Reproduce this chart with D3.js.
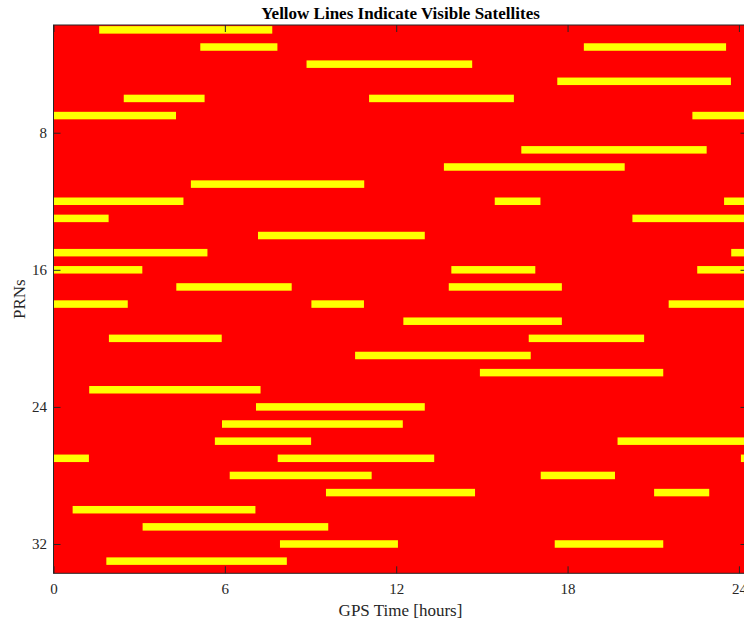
<!DOCTYPE html>
<html>
<head>
<meta charset="utf-8">
<script src="https://cdn.jsdelivr.net/npm/d3@7"></script>
<style>
  body { margin: 0; background: #fff; }
  text { font-family: "Liberation Serif", "Times New Roman", serif; }
</style>
</head>
<body>
<svg id="chart" width="744" height="622"></svg>
<script>
// visibility windows, one entry per pass: PRN, rise hour, set hour
var visPrn   = [2, 3, 3, 4, 5, 6, 6, 7, 7, 9, 10, 11, 12, 12, 12, 13, 13, 14, 15, 15,
                16, 16, 16, 17, 17, 18, 18, 18, 19, 20, 20, 21, 22, 23, 24, 25, 26, 26,
                27, 27, 27, 28, 28, 29, 29, 30, 31, 32, 32, 33];
var visStart = [1.60, 5.14, 18.57, 8.86, 17.64, 2.46, 11.05, 0, 22.37, 16.38, 13.67, 4.81,
                0, 15.45, 23.48, 0, 20.27, 7.16, 0, 23.73,
                0, 13.93, 22.54, 4.30, 13.84, 0, 9.03, 21.54, 12.25, 1.94, 16.64, 10.56,
                14.93, 1.25, 7.09, 5.90, 5.65, 19.75,
                0, 7.85, 24.07, 6.17, 17.06, 9.54, 21.03, 0.67, 3.12, 7.93, 17.55, 1.85];
var visEnd   = [7.66, 7.84, 23.55, 14.66, 23.72, 5.29, 16.12, 4.29, 24.3, 22.87, 20.00, 10.88,
                4.55, 17.05, 24.3, 1.93, 24.3, 13.00, 5.39, 24.3,
                3.11, 16.87, 24.3, 8.34, 17.80, 2.60, 10.87, 24.3, 17.80, 5.89, 20.68, 16.71,
                21.35, 7.25, 13.00, 12.23, 9.02, 24.3,
                1.24, 13.33, 24.3, 11.14, 19.66, 14.76, 22.96, 7.07, 9.62, 12.06, 21.35, 8.17];

var xTicks = [0, 6, 12, 18, 24];
var yTicks = [8, 16, 24, 32];

var svg = d3.select('#chart');
var plotL = 53.5, plotR = 747.5, plotT = 25, plotB = 573.3;

var x = d3.scaleLinear().domain([0, 24.3]).range([plotL, plotR]);
var y = d3.scaleLinear().domain([1.715, 33.71]).range([plotT, plotB]);

svg.append("defs").append("clipPath").attr("id", "plotclip")
  .append("rect")
    .attr("x", plotL).attr("y", plotT)
    .attr("width", plotR - plotL).attr("height", plotB - plotT);

// red background = not visible
svg.append("rect")
    .attr("x", plotL).attr("y", plotT)
    .attr("width", plotR - plotL).attr("height", plotB - plotT)
    .attr("fill", "#ff0000");

var bars = visPrn.map(function(p, i) { return {prn: p, s: visStart[i], e: visEnd[i]}; });

svg.append("g").attr("clip-path", "url(#plotclip)")
  .selectAll("rect")
  .data(bars)
  .enter().append("rect")
    .attr("x", function(d) { return x(d.s); })
    .attr("y", function(d) { return y(d.prn) - 3.75; })
    .attr("width", function(d) { return x(d.e) - x(d.s); })
    .attr("height", 7.5)
    .attr("fill", "#ffff00");

var axisColor = "#262626";

var xAxis = d3.axisBottom(x).tickValues(xTicks).tickSizeInner(-7).tickSizeOuter(0).tickPadding(10);
var yAxis = d3.axisLeft(y).tickValues(yTicks).tickSizeInner(-7).tickSizeOuter(0).tickPadding(6.5);

var gx = svg.append("g").attr("transform", "translate(0," + plotB + ")").call(xAxis);
var gy = svg.append("g").attr("transform", "translate(" + plotL + ",0)").call(yAxis);
var gxt = svg.append("g").attr("transform", "translate(0," + plotT + ")")
    .call(d3.axisTop(x).tickValues(xTicks).tickSizeInner(-7).tickSizeOuter(0).tickFormat(""));
var gyr = svg.append("g").attr("transform", "translate(" + plotR + ",0)")
    .call(d3.axisRight(y).tickValues(yTicks).tickSizeInner(-7).tickSizeOuter(0).tickFormat(""));

[gx, gy, gxt, gyr].forEach(function(g) {
  g.select(".domain").remove();
  g.selectAll(".tick line").attr("stroke", axisColor);
  g.selectAll(".tick text")
    .attr("fill", axisColor)
    .style("font-family", '"Liberation Serif", "Times New Roman", serif')
    .style("font-size", "15px");
});

// axes box
svg.append("rect")
    .attr("x", plotL).attr("y", plotT)
    .attr("width", plotR - plotL).attr("height", plotB - plotT)
    .attr("fill", "none")
    .attr("stroke", axisColor)
    .attr("stroke-width", 1);

svg.append("text")
    .attr("x", (plotL + plotR) / 2).attr("y", 19)
    .attr("text-anchor", "middle")
    .style("font-size", "17px").style("font-weight", "bold")
    .attr("fill", "#000")
    .text("Yellow Lines Indicate Visible Satellites");

svg.append("text")
    .attr("x", (plotL + plotR) / 2).attr("y", 616)
    .attr("text-anchor", "middle")
    .style("font-size", "17px")
    .attr("fill", axisColor)
    .text("GPS Time [hours]");

svg.append("text")
    .attr("transform", "translate(25," + ((plotT + plotB) / 2) + ") rotate(-90)")
    .attr("text-anchor", "middle")
    .style("font-size", "17px")
    .attr("fill", axisColor)
    .text("PRNs");
</script>
</body>
</html>
